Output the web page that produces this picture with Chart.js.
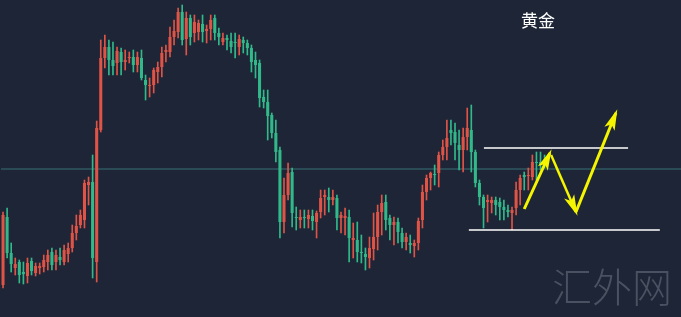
<!DOCTYPE html>
<html>
<head>
<meta charset="utf-8">
<script src="https://cdn.jsdelivr.net/npm/chart.js@4.4.1/dist/chart.umd.min.js"></script>
<style>
html, body { margin: 0; padding: 0; background: #1d2536; }
#wrap { width: 681px; height: 317px; position: relative; }
</style>
</head>
<body>
<div id="wrap"><canvas id="goldChart"></canvas></div>
<script>
// candle values (arbitrary price units)
var candleOpen = [32,100,64,49,55,45,41,56,44,49,50,55,65,55,60,55,63,69,84,92,97,132,135,55,187,
    259,270,257,254,265,255,259,260,252,259,237,231,232,245,250,265,265,280,285,305,278,299,284,285,293,286,288,299,284,275,279,
    276,275,270,277,274,269,257,254,220,215,202,184,167,95,122,145,100,
    97,100,98,101,95,105,120,120,117,119,
    99,99,100,77,77,65,63,59,68,80,105,115,99,92,95,84,75,74,71,
    74,97,125,139,143,144,162,170,187,185,172,167,180,187,165,134,120,115,114,117,115,110,107,104,109,127,142,141,140,155,155,157];
var candleHigh = [105,109,74,59,57,55,59,59,54,54,62,67,69,67,69,72,74,92,102,107,137,140,162,196,277,
    282,277,275,270,269,267,265,267,265,267,242,239,249,255,270,272,290,297,309,312,305,302,302,297,302,292,302,302,289,284,282,
    284,284,282,280,277,272,265,257,227,227,204,197,170,139,154,149,110,
    107,107,107,107,106,127,127,129,127,122,
    105,109,107,94,95,82,69,80,104,112,122,122,102,100,99,89,84,82,77,
    99,132,142,145,152,165,177,197,197,194,187,189,209,212,167,137,122,122,120,120,119,117,112,110,135,142,145,149,162,165,165,162];
var candleLow = [29,59,45,42,34,33,34,42,41,43,45,47,47,47,52,52,55,65,77,89,89,112,39,35,185,
    249,242,242,242,242,247,254,245,245,237,217,220,224,234,240,255,260,272,279,272,262,272,275,277,275,274,277,277,272,272,267,
    264,259,262,264,262,245,239,210,209,177,179,155,79,84,117,90,87,
    89,89,89,87,79,99,102,105,112,87,
    84,82,55,59,55,54,47,49,57,67,82,87,77,72,74,69,67,64,60,
    67,89,117,127,132,130,157,157,172,157,147,145,167,145,130,112,89,95,104,102,97,97,100,87,102,112,127,127,137,137,147,149];
var candleClose = [102,64,53,53,42,43,54,46,51,51,57,62,52,62,57,67,69,84,91,102,134,135,59,189,259,
    270,257,251,266,255,257,260,252,260,239,232,232,247,250,264,267,280,286,305,277,299,280,295,294,285,288,297,284,280,279,277,
    270,274,278,274,269,255,252,219,215,201,184,165,95,122,144,104,99,
    100,99,102,96,104,119,122,117,120,99,
    102,101,79,79,65,64,60,69,80,105,114,97,92,95,85,75,80,72,74,
    96,125,139,144,142,162,170,179,184,174,167,180,189,165,134,120,109,117,117,112,110,107,105,107,127,139,140,142,155,154,152,154];

var slotCount = 167;           // candle slots across the width (future ones are empty)
var pivotLevel = 148;          // teal reference line
var resistLevel = 169;         // upper white line
var supportLevel = 87;         // lower white line
var resistSpan = [118.1, 153.5];
var supportSpan = [114.4, 161.3];
// projected path: [slot, price] pairs
var arrowUp1 = [[128.0, 108], [134.3, 164]];
var arrowDown = [[134.6, 162], [140.7, 105]];
var arrowUp2 = [[140.7, 105], [150.5, 204]];

var upColor = '#df5446';
var downColor = '#31b98a';

var labels = [];
for (var i = 0; i < slotCount; i++) labels.push(String(i + 1));

var wickData = [], bodyData = [], candleColors = [];
for (var i = 0; i < candleOpen.length; i++) {
    wickData.push([candleLow[i], candleHigh[i]]);
    bodyData.push([candleOpen[i], candleClose[i]]);
    candleColors.push(candleClose[i] >= candleOpen[i] ? upColor : downColor);
}

function toPoints(pairs) {
    return pairs.map(function (p) { return {x: p[0], y: p[1]}; });
}

var overlayPlugin = {
    id: 'overlay',
    beforeDraw: function (chart) {
        var ctx = chart.ctx;
        ctx.save();
        ctx.fillStyle = '#1d2536';
        ctx.fillRect(0, 0, chart.width, chart.height);
        ctx.restore();
    },
    afterDatasetsDraw: function (chart) {
        var ctx = chart.ctx;
        chart.data.datasets.forEach(function (ds, idx) {
            if (!ds.arrowHead) return;
            var pts = chart.getDatasetMeta(idx).data;
            var a = pts[pts.length - 2], b = pts[pts.length - 1];
            var ang = Math.atan2(b.y - a.y, b.x - a.x);
            var len = 17, half = 5.5;
            ctx.save();
            ctx.translate(b.x, b.y);
            ctx.rotate(ang);
            ctx.fillStyle = ds.borderColor;
            ctx.beginPath();
            ctx.moveTo(4, 0);
            ctx.lineTo(-len, -half);
            ctx.lineTo(-len + 5, 0);
            ctx.lineTo(-len, half);
            ctx.closePath();
            ctx.fill();
            ctx.restore();
        });

        ctx.save();
        ctx.fillStyle = '#ffffff';
        ctx.font = '17px "Noto Sans CJK SC"';
        ctx.textAlign = 'center';
        ctx.textBaseline = 'middle';
        ctx.fillText('黄金', 538, 21);
        ctx.fillStyle = '#4a5160';
        ctx.font = '300 40px "Noto Sans CJK SC"';
        ctx.textAlign = 'left';
        ctx.textBaseline = 'alphabetic';
        ctx.fillText('汇外网', 552, 302);
        ctx.restore();
    }
};

var ctx = document.getElementById('goldChart').getContext('2d');
var goldChart = new Chart(ctx, {
    data: {
        labels: labels,
        datasets: [{
            type: 'line',
            xAxisID: 'x2',
            data: toPoints([[-0.5, pivotLevel], [slotCount - 0.5, pivotLevel]]),
            borderColor: 'rgba(64,140,140,0.75)',
            borderWidth: 1,
            pointRadius: 0,
            order: 10
        }, {
            type: 'bar',
            data: wickData,
            backgroundColor: candleColors,
            barThickness: 1,
            grouped: false,
            order: 6
        }, {
            type: 'bar',
            data: bodyData,
            backgroundColor: candleColors,
            barPercentage: 0.75,
            categoryPercentage: 1,
            minBarLength: 1,
            grouped: false,
            order: 5
        }, {
            type: 'line',
            xAxisID: 'x2',
            data: toPoints([[resistSpan[0], resistLevel], [resistSpan[1], resistLevel]]),
            borderColor: '#ffffff',
            borderWidth: 1.5,
            pointRadius: 0,
            order: 2
        }, {
            type: 'line',
            xAxisID: 'x2',
            data: toPoints([[supportSpan[0], supportLevel], [supportSpan[1], supportLevel]]),
            borderColor: '#ffffff',
            borderWidth: 1.5,
            pointRadius: 0,
            order: 2
        }, {
            type: 'line',
            xAxisID: 'x2',
            data: toPoints(arrowUp1),
            borderColor: '#f5f500',
            borderWidth: 3,
            pointRadius: 0,
            arrowHead: true,
            order: 1
        }, {
            type: 'line',
            xAxisID: 'x2',
            data: toPoints(arrowDown),
            borderColor: '#f5f500',
            borderWidth: 2.5,
            pointRadius: 0,
            arrowHead: true,
            order: 1
        }, {
            type: 'line',
            xAxisID: 'x2',
            data: toPoints(arrowUp2),
            borderColor: '#f5f500',
            borderWidth: 3,
            pointRadius: 0,
            arrowHead: true,
            order: 1
        }]
    },
    options: {
        responsive: true,
        maintainAspectRatio: false,
        animation: false,
        layout: { padding: { left: 1, right: 0, top: 0, bottom: 0 } },
        plugins: {
            legend: { display: false },
            tooltip: { enabled: false },
            title: { display: false }
        },
        scales: {
            x: { type: 'category', display: false, offset: true, grid: { display: false } },
            x2: { type: 'linear', display: false, min: -0.5, max: slotCount - 0.5 },
            y: { display: false, min: 0, max: 317 }
        }
    },
    plugins: [overlayPlugin]
});
</script>
</body>
</html>
